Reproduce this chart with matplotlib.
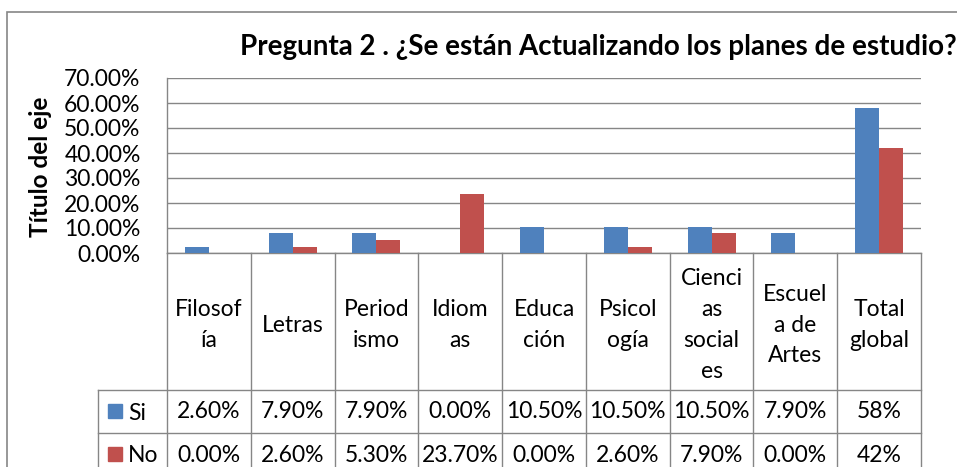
import matplotlib
matplotlib.use("Agg")
import matplotlib.pyplot as plt
import matplotlib.transforms as mtransforms
from matplotlib.lines import Line2D
from matplotlib.patches import Rectangle
import numpy as np

categories = ["Filosof\nía", "Letras", "Period\nismo", "Idiom\nas", "Educa\nción",
              "Psicol\nogía", "Cienci\nas\nsocial\nes", "Escuel\na de\nArtes", "Total\nglobal"]
si_values = [2.6, 7.9, 7.9, 0.0, 10.5, 10.5, 10.5, 7.9, 58.0]
no_values = [0.0, 2.6, 5.3, 23.7, 0.0, 2.6, 7.9, 0.0, 42.0]
si_labels = ["2.60%", "7.90%", "7.90%", "0.00%", "10.50%", "10.50%", "10.50%", "7.90%", "58%"]
no_labels = ["0.00%", "2.60%", "5.30%", "23.70%", "0.00%", "2.60%", "7.90%", "0.00%", "42%"]
series_names = ["Si", "No"]
yticks = [0, 10, 20, 30, 40, 50, 60, 70]
title = "Pregunta 2 . ¿Se están Actualizando los planes de estudio?"
ylabel = "Título del eje"

BLUE = "#4F81BD"
RED = "#C0504D"
GRID = "#868686"
FONT = ["Lato", "DejaVu Sans"]
plt.rcParams["font.family"] = FONT

W, H = 957, 467
fig = plt.figure(figsize=(W / 100, H / 100), dpi=100)
fig.patch.set_facecolor("white")

def fx(x):
    return x / W

def fy(y):
    return 1 - y / H

left, right, top, bottom = 167, 921, 78, 253
ax = fig.add_axes([fx(left), fy(bottom), fx(right) - fx(left), fy(top) - fy(bottom)])

n = len(categories)
x = np.arange(n)
bw = 0.286
ax.bar(x - bw / 2, si_values, bw, color=BLUE, zorder=3)
ax.bar(x + bw / 2, no_values, bw, color=RED, zorder=3)
ax.set_xlim(-0.5, n - 0.5)
ax.set_ylim(0, 70)
ax.set_yticks(yticks)
ax.set_yticklabels([f"{v:.2f}%" for v in yticks])
ax.tick_params(axis="y", length=0, pad=19, labelsize=16.5)
ax.set_xticks([])
ax.grid(axis="y", color=GRID, linewidth=1.0, zorder=0)
for s in ["top", "right"]:
    ax.spines[s].set_visible(False)
ax.spines["left"].set_color(GRID)
ax.spines["bottom"].set_color(GRID)
ax.spines["left"].set_linewidth(1.0)
ax.spines["bottom"].set_linewidth(1.0)

# outer chart border
fig.add_artist(Rectangle((fx(7), fy(480)), fx(1000) - fx(7), fy(12) - fy(480),
                         transform=fig.transFigure, fill=False, edgecolor=GRID, linewidth=1.2))

# title and y label
fig.text(fx(598), fy(47), title, ha="center", va="center", fontsize=20, fontweight="bold")
fig.text(fx(40), fy(167), ylabel, ha="center", va="center", rotation=90, fontsize=17.5,
         fontweight="bold")

# data table
tr = mtransforms.blended_transform_factory(ax.transData, fig.transFigure)
row_cat_bottom, row_si_bottom, row_no_bottom = 390, 433, 480
lkw = dict(color=GRID, linewidth=1.0, transform=tr, clip_on=False)
for i in range(n + 1):
    xb = i - 0.5
    fig.add_artist(Line2D([xb, xb], [fy(bottom), fy(row_no_bottom)], **lkw))
leg_left = (98 - left) / (right - left) * n - 0.5
for yy in [row_cat_bottom, row_si_bottom]:
    fig.add_artist(Line2D([leg_left, n - 0.5], [fy(yy), fy(yy)], **lkw))
fig.add_artist(Line2D([leg_left, leg_left], [fy(row_cat_bottom), fy(row_no_bottom)], **lkw))

for i, cat in enumerate(categories):
    fig.text(i, fy(325), cat, transform=tr, ha="center", va="center", fontsize=16.5,
             linespacing=1.57)
    fig.text(i, fy(412), si_labels[i], transform=tr, ha="center", va="center", fontsize=16.5)
    fig.text(i, fy(455), no_labels[i], transform=tr, ha="center", va="center", fontsize=16.5)

for name, col, yc in [(series_names[0], BLUE, 412), (series_names[1], RED, 455)]:
    fig.add_artist(Rectangle((fx(108), fy(yc + 6)), fx(14), fx(14) * W / H,
                             transform=fig.transFigure, color=col))
    fig.text(fx(128), fy(yc + 1), name, ha="left", va="center", fontsize=16.5)

fig.savefig("out.png", dpi=100)
